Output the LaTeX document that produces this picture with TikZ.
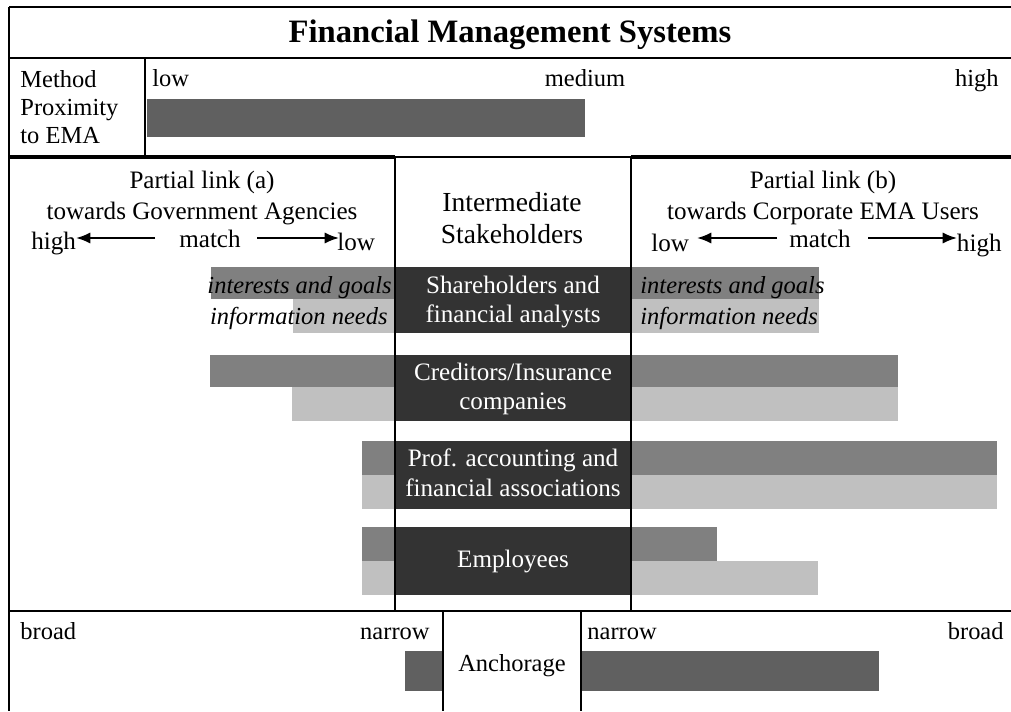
\documentclass[tikz,border=0pt]{standalone}
\usepackage{fontspec}
\setmainfont{Liberation Serif}
\usetikzlibrary{arrows.meta}
\definecolor{boxc}{HTML}{333333}
\definecolor{midc}{HTML}{808080}
\definecolor{lightc}{HTML}{C0C0C0}
\definecolor{barc}{HTML}{606060}
\begin{document}
\begin{tikzpicture}[x=0.49pt,y=-0.49pt,
  txt/.style={inner sep=0pt, font=\fontsize{12}{14}\selectfont},
  htxt/.style={inner sep=0pt, font=\fontsize{12.3}{14}\selectfont},
  mtxt/.style={inner sep=0pt, font=\fontsize{13.5}{16}\selectfont},
  itxt/.style={inner sep=0pt, font=\fontsize{12}{14}\selectfont\itshape},
  wtxt/.style={inner sep=0pt, text=white, font=\fontsize{12.3}{14}\selectfont},
  ttl/.style={inner sep=0pt, font=\fontsize{16}{19}\selectfont\bfseries},
  thin/.style={line width=1pt, black},
  thick/.style={line width=1.6pt, black},
  matcharrow/.style={line width=1pt, -{Latex[length=7pt,width=5.5pt]}}]
\useasboundingbox (0,0) rectangle (1011,711);
% ---- bars ----
\fill[barc] (147,99) rectangle (585,137);
% Shareholders row
\fill[midc] (211,267) rectangle (395,299);
\fill[lightc] (293,299) rectangle (395,333);
\fill[midc] (631,267) rectangle (819,299);
\fill[lightc] (631,299) rectangle (819,333);
\fill[boxc] (395,267) rectangle (631,333);
% Creditors row
\fill[midc] (210,355) rectangle (395,387);
\fill[lightc] (292,387) rectangle (395,421);
\fill[midc] (631,355) rectangle (898,387);
\fill[lightc] (631,387) rectangle (898,421);
\fill[boxc] (395,355) rectangle (631,421);
% Prof row
\fill[midc] (362,441) rectangle (395,475);
\fill[lightc] (362,475) rectangle (395,509);
\fill[midc] (631,441) rectangle (997,475);
\fill[lightc] (631,475) rectangle (997,509);
\fill[boxc] (395,441) rectangle (631,509);
% Employees row
\fill[midc] (362,527) rectangle (395,561);
\fill[lightc] (362,561) rectangle (395,595);
\fill[midc] (631,527) rectangle (717,561);
\fill[lightc] (631,561) rectangle (818,595);
\fill[boxc] (395,527) rectangle (631,595);
% Anchorage bars
\fill[barc] (405,651) rectangle (443,691);
\fill[barc] (581,651) rectangle (879,691);
% ---- frame lines ----
\draw[thin] (9,7) -- (1011,7);
\draw[thin] (9,7) -- (9,711);
\draw[thin] (9,58) -- (1011,58);
\draw[thin] (145,58) -- (145,157);
\draw[thick] (9,157) -- (395,157);
\draw[thin] (395,157) -- (631,157);
\draw[thick] (631,157) -- (1011,157);
\draw[thin] (395,157) -- (395,611);
\draw[thin] (631,157) -- (631,611);
\draw[thin] (9,611) -- (1011,611);
\draw[thin] (443,611) -- (443,711);
\draw[thin] (581,611) -- (581,711);
% ---- title ----
\node[ttl, anchor=base] (title) at (510,43) {Financial Management Systems};
% ---- method row ----
\node[txt, anchor=base west] (m1) at (20,88) {Method};
\node[txt, anchor=base west] (m2) at (20,116) {Proximity};
\node[txt, anchor=base west] (m3) at (20,144) {to EMA};
\node[txt, anchor=base west] (mlow) at (152,87) {low};
\node[txt, anchor=base] (mmed) at (585,87) {medium};
\node[txt, anchor=base east] (mhigh) at (999,87) {high};
% ---- left header ----
\node[htxt, anchor=base] (pa1) at (202,189) {Partial link (a)};
\node[htxt, anchor=base] (pa2) at (202,219) {towards Government Agencies};
\node[htxt, anchor=base west] (pahigh) at (31,249) {high};
\node[htxt, anchor=base] (pamatch) at (210,247) {match};
\node[htxt, anchor=base west] (palow) at (337,250) {low};
\coordinate (aL1) at (155,238);
\coordinate (aL2) at (76,238);
\coordinate (aR1) at (257,238);
\coordinate (aR2) at (339,238);
\draw[matcharrow] (aL1) -- (aL2);
\draw[matcharrow] (aR1) -- (aR2);
% ---- middle header ----
\node[mtxt, anchor=base] (is1) at (512,212) {Intermediate};
\node[mtxt, anchor=base] (is2) at (512,243) {Stakeholders};
% ---- right header ----
\node[htxt, anchor=base] (pb1) at (823,189) {Partial link (b)};
\node[htxt, anchor=base] (pb2) at (823,219) {towards Corporate EMA Users};
\node[htxt, anchor=base west] (pblow) at (651,251) {low};
\node[htxt, anchor=base] (pbmatch) at (820,247) {match};
\node[htxt, anchor=base east] (pbhigh) at (1002,251) {high};
\coordinate (bL1) at (777,238);
\coordinate (bL2) at (697,238);
\coordinate (bR1) at (868,238);
\coordinate (bR2) at (957,238);
\draw[matcharrow] (bL1) -- (bL2);
\draw[matcharrow] (bR1) -- (bR2);
% ---- italics ----
\node[itxt, anchor=base east] (ig1) at (392,293) {interests and goals};
\node[itxt, anchor=base east] (in1) at (388,324) {information needs};
\node[itxt, anchor=base west] (ig2) at (640,293) {interests and goals};
\node[itxt, anchor=base west] (in2) at (640,324) {information needs};
% ---- box texts ----
\node[wtxt, anchor=base] (sh1) at (513,293) {Shareholders and};
\node[wtxt, anchor=base] (sh2) at (513,322) {financial analysts};
\node[wtxt, anchor=base] (cr1) at (513,380) {Creditors/Insurance};
\node[wtxt, anchor=base] (cr2) at (513,409) {companies};
\node[wtxt, anchor=base] (pr1) at (513,466) {Prof. accounting and};
\node[wtxt, anchor=base] (pr2) at (513,496) {financial associations};
\node[wtxt, anchor=base] (em1) at (513,567) {Employees};
% ---- bottom row ----
\node[txt, anchor=base west] (br1) at (20,639) {broad};
\node[txt, anchor=base east] (nr1) at (430,639) {narrow};
\node[txt, anchor=base west] (nr2) at (587,639) {narrow};
\node[txt, anchor=base east] (br2) at (1004,639) {broad};
\node[txt, anchor=base] (anch) at (512,671) {Anchorage};
\end{tikzpicture}
\end{document}
